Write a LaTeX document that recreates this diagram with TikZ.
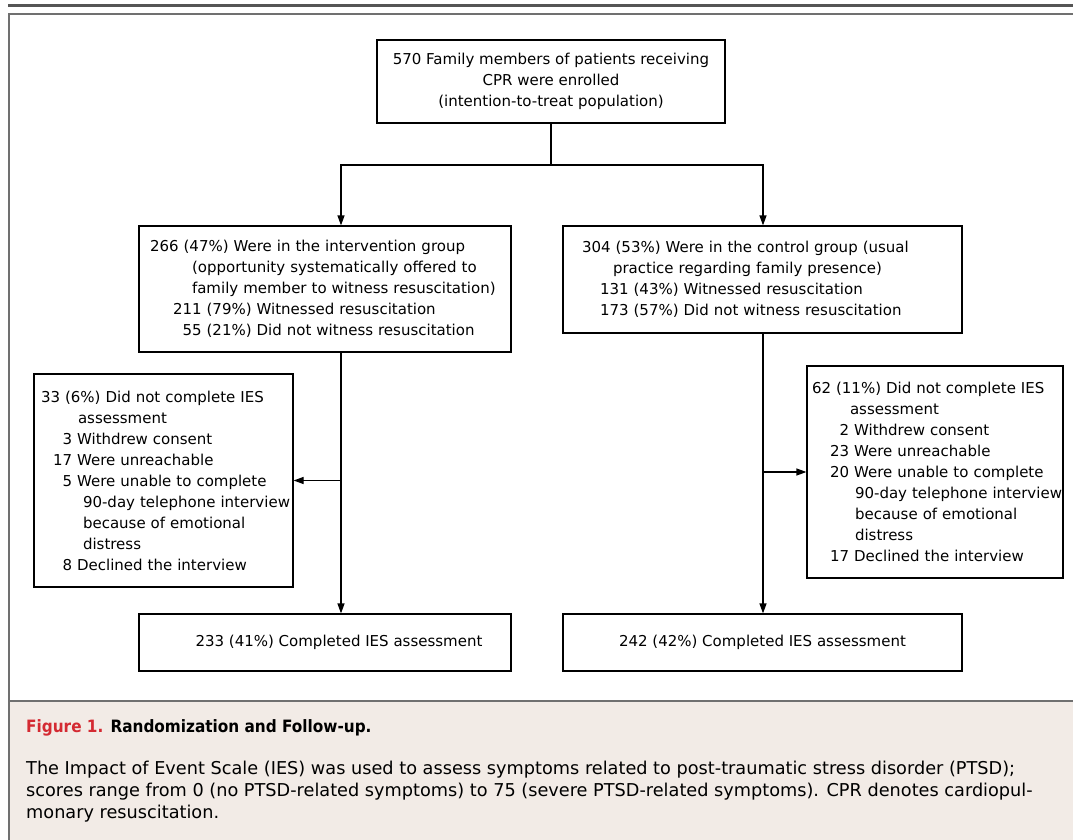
\documentclass[tikz,border=0pt]{standalone}
\usepackage{xcolor}
\usepackage{fontspec}
\setmainfont{DejaVu Sans}
\newfontfamily\condfont{DejaVu Sans Condensed}
\usetikzlibrary{arrows.meta,positioning}

\definecolor{capbg}{HTML}{F2EBE6}
\definecolor{capred}{HTML}{D42A32}
\definecolor{framegray}{HTML}{707070}
\definecolor{rulegray}{HTML}{555555}

\begin{document}
\begin{tikzpicture}[
    x=1pt, y=-1pt,
    box/.style={rectangle, draw, line width=1.2pt, inner xsep=0pt, inner ysep=0pt, font=\fontsize{15}{21}\selectfont},
    flow/.style={-{Triangle[length=10pt,width=7pt]}, line width=1.2pt},
    link/.style={line width=1.2pt},
    captext/.style={inner sep=0pt, anchor=north west, align=left, font=\fontsize{17.7}{22}\selectfont}
]
\useasboundingbox (0,0) rectangle (1073,840);

% Frame and caption panel
\fill[capbg] (10,702) rectangle (1073,840);
\draw[rulegray, line width=3pt] (8,6) -- (1073,6);
\draw[framegray, line width=2pt] (9,841) -- (9,14) -- (1073,14);
\draw[framegray, line width=2pt] (9,701) -- (1073,701);

% Enrollment
\node[box, align=center, minimum width=348pt, minimum height=83pt] (enrol) at (551,81.5)
    {570 Family members of patients receiving\\CPR were enrolled\\(intention-to-treat population)};

% Randomized groups
\node[box, align=left, minimum width=372pt, minimum height=126pt, text width=372pt] (intv) at (325,289)
    {\hspace*{11pt}266 (47\%) Were in the intervention group\\
     \hspace*{53pt}(opportunity systematically offered to\\
     \hspace*{53pt}family member to witness resuscitation)\\
     \hspace*{34pt}211 (79\%) Witnessed resuscitation\\
     \hspace*{34pt}\phantom{2}55 (21\%) Did not witness resuscitation};
\node[box, align=left, minimum width=399pt, minimum height=107pt, text width=399pt] (ctrl) at (762.5,279.5)
    {\hspace*{19pt}304 (53\%) Were in the control group (usual\\
     \hspace*{50pt}practice regarding family presence)\\
     \hspace*{37pt}131 (43\%) Witnessed resuscitation\\
     \hspace*{37pt}173 (57\%) Did not witness resuscitation};

% Losses to follow-up
\node[box, align=left, minimum width=259pt, minimum height=213pt, text width=259pt] (exclL) at (163.5,480.5)
    {\hspace*{7pt}33 (6\%) Did not complete IES\\
     \hspace*{44pt}assessment\\
     \hspace*{19pt}\phantom{1}3 Withdrew consent\\
     \hspace*{19pt}17 Were unreachable\\
     \hspace*{19pt}\phantom{1}5 Were unable to complete\\
     \hspace*{49pt}90-day telephone interview\\
     \hspace*{49pt}because of emotional\\
     \hspace*{49pt}distress\\
     \hspace*{19pt}\phantom{1}8 Declined the interview};
\node[box, align=left, minimum width=256pt, minimum height=212pt, text width=256pt] (exclR) at (935,472)
    {\hspace*{5pt}62 (11\%) Did not complete IES\\
     \hspace*{43pt}assessment\\
     \hspace*{23pt}\phantom{2}2 Withdrew consent\\
     \hspace*{23pt}23 Were unreachable\\
     \hspace*{23pt}20 Were unable to complete\\
     \hspace*{48pt}90-day telephone interview\\
     \hspace*{48pt}because of emotional\\
     \hspace*{48pt}distress\\
     \hspace*{23pt}17 Declined the interview};

% Analysed
\node[box, align=center, minimum width=372pt, minimum height=57pt] (doneL) at (325,642.5)
    {\hspace*{28pt}233 (41\%) Completed IES assessment};
\node[box, align=center, minimum width=399pt, minimum height=57pt] (doneR) at (762.5,642.5)
    {242 (42\%) Completed IES assessment};

% Trunk lines
\coordinate (split) at (551,165);
\coordinate (trunkL) at (341,165);
\coordinate (trunkR) at (763,165);

\draw[link] (enrol.south) -- (split);
\draw[flow] (split) -| (intv.north -| trunkL);
\draw[flow] (split) -| (ctrl.north -| trunkR);
\draw[flow] (intv.south -| trunkL) -- (doneL.north -| trunkL);
\draw[flow] (ctrl.south -| trunkR) -- (doneR.north -| trunkR);
\draw[flow] (exclL.east -| trunkL) -- (exclL.east);
\draw[flow] (exclR.west -| trunkR) -- (exclR.west);

% Caption
\node[inner sep=0pt, anchor=base west, font=\condfont\fontsize{17}{22}\selectfont\bfseries] (title) at (26,732)
    {\textcolor{capred}{Figure 1.} Randomization and Follow-up.};
\node[captext] (legend) at (26,761)
    {The Impact of Event Scale (IES) was used to assess symptoms related to post-traumatic stress disorder (PTSD);\\
     scores range from 0 (no PTSD-related symptoms) to 75 (severe PTSD-related symptoms). CPR denotes cardiopul-\\
     monary resuscitation.};

\end{tikzpicture}
\end{document}
